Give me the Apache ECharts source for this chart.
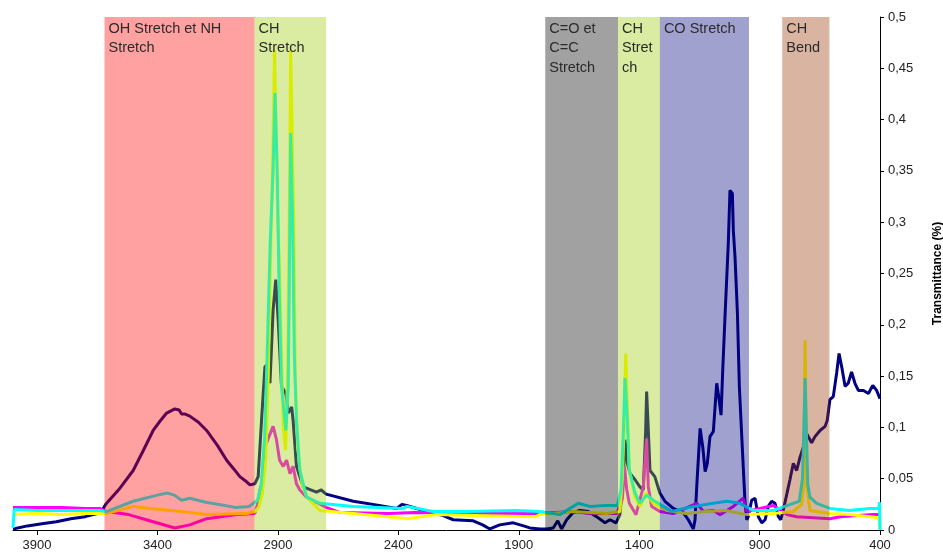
<!DOCTYPE html>
<html>
<head>
<meta charset="utf-8">
<script src="https://cdn.jsdelivr.net/npm/echarts@6/dist/echarts.min.js"></script>
<style>
html,body{margin:0;padding:0;background:#fff;overflow:hidden;}
#chart{width:943px;height:558px;}
</style>
</head>
<body>
<div id="chart"></div>
<script>
// ---- Data (wavenumber cm-1, transmittance) ----
const xTickValues = [3900, 3400, 2900, 2400, 1900, 1400, 900, 400];

const navyWn = [4000,3940,3880,3820,3760,3700,3650,3630,3615,3555,3501,3460,3418,3390,3362,3328,3310,3300,3285,3266,3230,3196,3150,3113,3085,3058,3030,3016,2996,
  2982,2968,2954,2940,2933,2920,2909,2899,2885,2867,2857,2843,2837,2823,2795,2740,2720,2700,2587,2480,2407,2385,2366,2324,2214,2172,2089,2050,2020,1979,1923,1880,1854,1812,1784,1757,1738,1722,1701,1674,1646,1611,1577,1542,1521,1496,1480,1466,1459,1449,1438,1417,1397,1383,1373,1369,1362,1355,1335,1314,1293,1258,1217,1196,1175,
  1168,1161,1147,1136,1126,1117,1106,1092,1078,1068,1060,1053,1043,1030,1023,1013,1009,1002,992,984,974,961,953,947,933,919,905,891,877,864,850,836,822,812,802,787,774,760,746,732,718,705,684,670,649,628,619,608,594,580,570,559,545,532,518,504,490,469,448,430,414,400];
const navyT = [0.001,0.004,0.006,0.008,0.011,0.013,0.016,0.019,0.025,0.041,0.058,0.077,0.097,0.106,0.114,0.118,0.117,0.113,0.113,0.111,0.105,0.097,0.082,0.068,0.060,0.052,0.047,0.044,0.045,
  0.052,0.107,0.159,0.162,0.143,0.214,0.244,0.205,0.140,0.133,0.114,0.120,0.107,0.062,0.042,0.037,0.039,0.035,0.028,0.024,0.021,0.025,0.024,0.021,0.014,0.010,0.009,0.005,0.001,0.005,0.007,0.004,0.002,0.001,0.001,0.002,0.009,0.001,0.010,0.017,0.019,0.018,0.013,0.007,0.010,0.007,0.015,0.052,0.088,0.065,0.055,0.049,0.042,0.039,0.097,0.135,0.097,0.058,0.052,0.036,0.028,0.021,0.017,0.010,0.001,
  0.010,0.042,0.099,0.081,0.057,0.065,0.091,0.096,0.143,0.127,0.112,0.156,0.211,0.279,0.331,0.328,0.292,0.266,0.211,0.140,0.091,0.029,0.010,0.013,0.029,0.031,0.013,0.007,0.010,0.023,0.028,0.026,0.013,0.010,0.019,0.035,0.049,0.065,0.058,0.071,0.081,0.094,0.085,0.091,0.097,0.101,0.107,0.127,0.130,0.153,0.172,0.159,0.140,0.143,0.154,0.143,0.136,0.136,0.133,0.141,0.136,0.128];

const magentaWn = [4000,3900,3800,3700,3640,3612,3520,3418,3328,3266,3196,3070,2996,2985,2975,2961,2954,2920,2906,2893,2878,2864,2850,2837,2823,2809,2781,2740,2700,2640,2440,2330,2160,1880,1812,1674,1605,1493,1470,1461,1452,1441,1413,1383,1369,1362,1348,1314,1258,1161,1133,1092,1064,1009,968,953,843,787,746,608,566,430,400];
const magentaT = [0.022,0.022,0.022,0.021,0.021,0.018,0.015,0.008,0.002,0.005,0.011,0.015,0.016,0.025,0.039,0.049,0.081,0.101,0.088,0.068,0.062,0.068,0.055,0.062,0.045,0.039,0.032,0.027,0.022,0.017,0.016,0.017,0.016,0.016,0.016,0.018,0.016,0.016,0.030,0.062,0.040,0.026,0.015,0.042,0.089,0.042,0.023,0.018,0.016,0.026,0.018,0.019,0.015,0.023,0.031,0.018,0.024,0.015,0.013,0.011,0.013,0.015,0.015];

const yellowWn = [4000,3900,3800,3700,3640,3612,3501,3430,3300,3196,3030,2996,2980,2965,2950,2940,2930,2920,2914,2906,2900,2894,2888,2878,2868,2860,2853,2847,2840,2834,2828,2818,2800,2780,2726,2587,2360,2245,2040,1830,1812,1674,1535,1480,1470,1463,1456,1450,1441,1417,1397,1372,1341,1286,1205,1122,1039,955,843,760,725,718,711,704,691,608,527,444,405,400];
const yellowT = [0.015,0.016,0.015,0.016,0.016,0.016,0.023,0.021,0.018,0.015,0.016,0.018,0.022,0.035,0.070,0.150,0.270,0.380,0.468,0.468,0.300,0.260,0.200,0.100,0.078,0.150,0.300,0.468,0.468,0.300,0.150,0.080,0.045,0.032,0.019,0.016,0.011,0.015,0.014,0.013,0.015,0.018,0.016,0.018,0.050,0.097,0.172,0.130,0.058,0.032,0.023,0.036,0.026,0.019,0.016,0.018,0.019,0.015,0.016,0.018,0.025,0.042,0.185,0.042,0.019,0.016,0.015,0.013,0.012,0.002];

const cyanWn = [4000,3995,3900,3800,3700,3640,3612,3501,3400,3360,3330,3300,3266,3200,3150,3075,3020,2996,2985,2970,2955,2945,2932,2920,2912,2903,2895,2885,2867,2857,2853,2847,2839,2832,2823,2809,2781,2726,2587,2379,2365,2255,2115,1909,1812,1729,1653,1605,1536,1490,1475,1465,1459,1449,1441,1417,1397,1369,1341,1299,1264,1216,1147,1092,1036,982,926,843,760,735,722,716,711,706,700,691,663,608,527,444,405,402,400];
const cyanT = [0.002,0.020,0.019,0.019,0.019,0.019,0.018,0.028,0.034,0.036,0.034,0.029,0.031,0.027,0.025,0.022,0.023,0.027,0.029,0.042,0.091,0.169,0.280,0.351,0.426,0.351,0.237,0.140,0.097,0.140,0.237,0.387,0.302,0.172,0.107,0.058,0.032,0.026,0.023,0.021,0.023,0.018,0.018,0.019,0.018,0.015,0.026,0.023,0.024,0.024,0.040,0.100,0.148,0.107,0.058,0.036,0.026,0.034,0.029,0.023,0.018,0.021,0.024,0.026,0.028,0.026,0.019,0.019,0.026,0.028,0.050,0.100,0.148,0.100,0.045,0.032,0.026,0.021,0.019,0.021,0.021,0.027,0.000];

// Band regions [from, to] and labels
const bandFrom = [3620, 2997, 1790, 1488, 1314, 806];
const bandTo = [2997, 2700, 1488, 1314, 944, 610];
const bandLabels = ['OH Stretch et NH\nStretch', 'CH\nStretch', 'C=O et\nC=C\nStretch', 'CH\nStret\nch', 'CO Stretch', 'CH\nBend'];
const bandColors = ['rgba(255,0,0,0.37)', 'rgba(153,204,0,0.37)', 'rgba(0,0,0,0.37)', 'rgba(153,204,0,0.37)', 'rgba(0,0,128,0.37)', 'rgba(153,51,0,0.37)'];

function pairs(xs, ys) { return xs.map((x, i) => [x, ys[i]]); }

const FONT = '"Liberation Sans", Arial, sans-serif';
const chart = echarts.init(document.getElementById('chart'), null, {renderer: 'canvas'});

function lineSeries(name, xs, ys, color) {
  return {
    name: name, type: 'line', data: pairs(xs, ys), showSymbol: false, symbol: 'none',
    lineStyle: {color: color, width: 3}, itemStyle: {color: color}, z: 2, silent: true
  };
}

const bandData = bandFrom.map((f, i) => [f, bandTo[i], 0, i]);

chart.setOption({
  animation: false,
  backgroundColor: '#ffffff',
  grid: {left: 13, right: 63, top: 17, bottom: 28, containLabel: false, outerBoundsMode: 'none'},
  xAxis: {
    type: 'value', inverse: true, min: 400, max: 4000, interval: 500,
    axisLine: {show: true, onZero: false, lineStyle: {color: '#000', width: 1}},
    axisTick: {show: true, inside: false, length: 5, lineStyle: {color: '#000'}, customValues: xTickValues},
    axisLabel: {color: '#222', fontFamily: FONT, fontSize: 13, margin: 9, customValues: xTickValues,
      formatter: v => String(v)},
    splitLine: {show: false}
  },
  yAxis: {
    type: 'value', position: 'right', min: 0, max: 0.5, interval: 0.05,
    axisLine: {show: true, lineStyle: {color: '#000', width: 1}},
    axisTick: {show: true, inside: false, length: 4, lineStyle: {color: '#000'}},
    axisLabel: {color: '#222', fontFamily: FONT, fontSize: 13, margin: 8,
      formatter: v => String(Math.round(v * 100) / 100).replace('.', ',')},
    splitLine: {show: false},
    name: 'Transmittance (%)', nameLocation: 'middle', nameRotate: 90, nameGap: 52,
    nameTextStyle: {color: '#000', fontFamily: FONT, fontSize: 12, fontWeight: 'bold'}
  },
  series: [
    lineSeries('navy', navyWn, navyT, '#000080'),
    lineSeries('magenta', magentaWn, magentaT, '#FF00FF'),
    lineSeries('yellow', yellowWn, yellowT, '#FFFF00'),
    lineSeries('cyan', cyanWn, cyanT, '#00FFFF'),
    {
      type: 'custom', z: 10, silent: true, clip: false,
      encode: {x: [0, 1], y: 2},
      data: bandData,
      renderItem: function (params, api) {
        const i = api.value(3);
        const p1 = api.coord([api.value(0), 0.5]);
        const p2 = api.coord([api.value(1), 0]);
        const x0 = Math.min(p1[0], p2[0]);
        const w = Math.abs(p2[0] - p1[0]);
        return {
          type: 'group',
          children: [
            {type: 'rect', shape: {x: x0, y: p1[1], width: w, height: p2[1] - p1[1]},
             style: {fill: bandColors[i]}},
            {type: 'text', x: x0 + 4, y: p1[1] + 2,
             style: {text: bandLabels[i], fill: '#2a2a2a', font: '14.5px ' + FONT,
                     lineHeight: 19.5, align: 'left', verticalAlign: 'top'}}
          ]
        };
      }
    }
  ]
});
</script>
</body>
</html>
